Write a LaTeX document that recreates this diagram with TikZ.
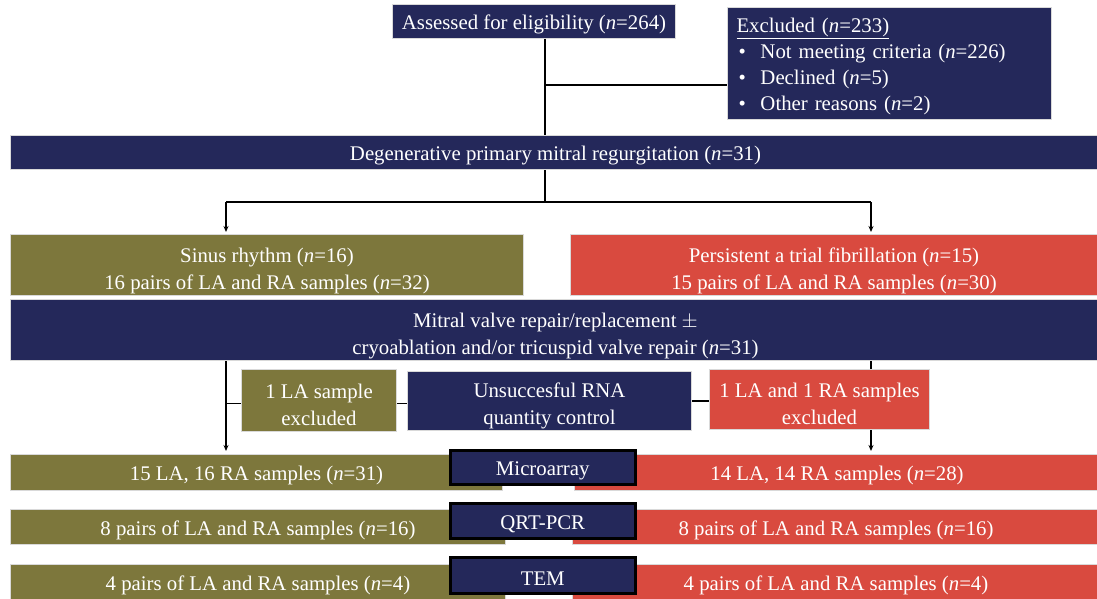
\documentclass[tikz,border=0pt]{standalone}
\usepackage{fontspec}
\setmainfont{Liberation Serif}
\usepackage{tikz}
\usetikzlibrary{positioning,arrows.meta}
\definecolor{mynavy}{RGB}{36,40,90}
\definecolor{myolive}{RGB}{125,119,60}
\definecolor{myred}{RGB}{217,74,63}
\newcommand{\lift}[1]{\rule{0pt}{#1}}

\begin{document}
\begin{tikzpicture}[x=1pt, y=-1pt,
    box/.style={draw=black!15, line width=1pt, text=white, inner sep=2pt, align=center,
      anchor=north west, font=\fontsize{20.8}{27}\selectfont,
      execute at begin node={\rule{0pt}{21pt}}},
    nv/.style={box, fill=mynavy},
    ol/.style={box, fill=myolive},
    rd/.style={box, fill=myred},
    mth/.style={box, fill=mynavy, draw=black, line width=2.5pt},
    ln/.style={line width=1.8pt},
    arr/.style={ln, -{Stealth[length=6pt,width=5pt]}}]
        \useasboundingbox (0,0) rectangle (1097,599);
        % screening
        \node[nv, minimum width=283pt, minimum height=34pt] (elig) at (392,4) {Assessed for eligibility (\textit{n}=264)};
        \node[nv, minimum height=112pt, text width=306pt, inner xsep=9pt, align=left,
          font=\fontsize{20.8}{26}\selectfont] (excl) at (727,7)
          {\underline{Excluded (\textit{n}=233)}\\
           \hspace*{2pt}\makebox[22pt][l]{\textbullet}Not meeting criteria (\textit{n}=226)\\
           \hspace*{2pt}\makebox[22pt][l]{\textbullet}Declined (\textit{n}=5)\\
           \hspace*{2pt}\makebox[22pt][l]{\textbullet}Other reasons (\textit{n}=2)};
        \node[nv, minimum width=1090pt, minimum height=34pt] (dmr) at (10,135) {Degenerative primary mitral regurgitation (\textit{n}=31)};
        % groups
        \node[ol, minimum width=513pt, minimum height=61pt] (sr) at (10,234)
          {\lift{26pt}Sinus rhythm (\textit{n}=16)\\16 pairs of LA and RA samples (\textit{n}=32)};
        \node[rd, minimum width=527pt, minimum height=61pt] (af) at (570,234)
          {\lift{26pt}Persistent a trial fibrillation (\textit{n}=15)\\15 pairs of LA and RA samples (\textit{n}=30)};
        \node[nv, minimum width=1090pt, minimum height=61pt] (surg) at (10,299)
          {\lift{26pt}Mitral valve repair/replacement $\pm$\\cryoablation and/or tricuspid valve repair (\textit{n}=31)};
        % quality control
        \node[ol, minimum width=155pt, minimum height=62pt] (olx) at (241,369) {\lift{24pt}1 LA sample\\excluded};
        \node[nv, minimum width=284pt, minimum height=56pt] (rna) at (407,371) {\lift{23.5pt}Unsuccesful RNA\\quantity control};
        \node[rd, minimum width=220pt, minimum height=60pt] (rdx) at (709,369) {\lift{23pt}1 LA and 1 RA samples\\excluded};
        % analyses
        \node[ol, minimum width=492pt, minimum height=36pt] (ma1) at (10,454) {15 LA, 16 RA samples (\textit{n}=31)};
        \node[rd, minimum width=525pt, minimum height=36pt] (ma2) at (574,454) {14 LA, 14 RA samples (\textit{n}=28)};
        \node[mth, minimum width=185pt, minimum height=34pt] (ma) at (449,449) {Microarray};
        \node[ol, minimum width=495pt, minimum height=35pt] (qp1) at (10,509) {8 pairs of LA and RA samples (\textit{n}=16)};
        \node[rd, minimum width=527pt, minimum height=35pt] (qp2) at (572,509) {8 pairs of LA and RA samples (\textit{n}=16)};
        \node[mth, minimum width=185pt, minimum height=35pt] (qp) at (449,502) {QRT-PCR};
        \node[ol, minimum width=495pt, minimum height=36pt] (tm1) at (10,564) {4 pairs of LA and RA samples (\textit{n}=4)};
        \node[rd, minimum width=527pt, minimum height=36pt] (tm2) at (572,564) {4 pairs of LA and RA samples (\textit{n}=4)};
        \node[mth, minimum width=185pt, minimum height=36pt] (tm) at (449,556) {TEM};
        % connectors
        \coordinate (c) at (545,0);
        \coordinate (L) at (226,0);
        \coordinate (R) at (871,0);
        \coordinate (j) at (545,85);
        \draw[ln] (c |- elig.south) -- (c |- dmr.north);
        \draw[ln] (j) -- (j -| excl.west);
        \draw[ln] (c |- dmr.south) -- ++(0,32) coordinate (k);
        \draw[ln] (L |- k) -- (R |- k);
        \draw[arr, shorten >=2pt] (L |- k) -- (L |- sr.north);
        \draw[arr, shorten >=2pt] (R |- k) -- (R |- af.north);
        \draw[arr, shorten >=3pt] (L |- surg.south) -- (L |- ma1.north);
        \draw[ln] (R |- surg.south) -- (R |- rdx.north);
        \draw[arr, shorten >=3pt] (R |- rdx.south) -- (R |- ma2.north);
        \draw[ln] ([yshift=-3pt]L |- olx.west) -- ([yshift=-3pt]olx.west);
        \draw[ln] ([yshift=-3pt]olx.east) -- ([yshift=-3pt]olx.east -| rna.west);
        \draw[ln] (rna.east) -- (rna.east -| rdx.west);
\end{tikzpicture}
\end{document}
